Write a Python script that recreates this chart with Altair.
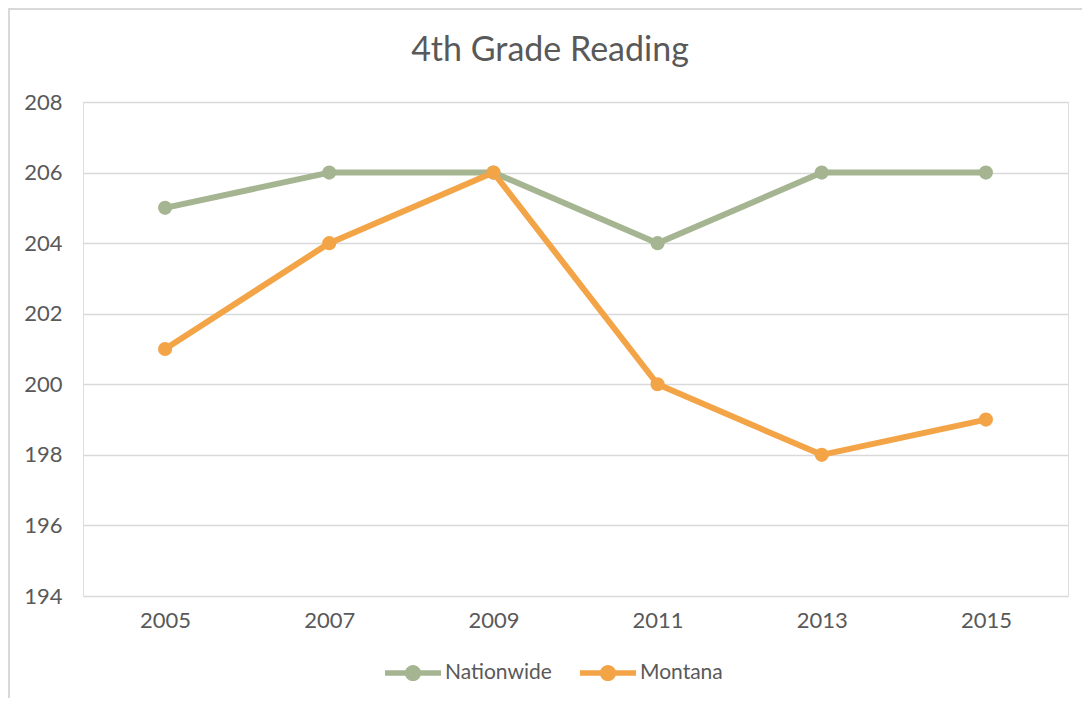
import altair as alt
import pandas as pd

years = ["2005", "2007", "2009", "2011", "2013", "2015"]
nationwide = [205, 206, 206, 204, 206, 206]
montana = [201, 204, 206, 200, 198, 199]
series_names = ["Nationwide", "Montana"]
series_colors = ["#A5B592", "#F3A447"]
y_ticks = [194, 196, 198, 200, 202, 204, 206, 208]
title_text = "4th Grade Reading"

rows = []
for name, vals in zip(series_names, [nationwide, montana]):
    for yr, v in zip(years, vals):
        rows.append({"year": yr, "value": v, "series": name, "order": series_names.index(name)})
df = pd.DataFrame(rows)

FONT = "Lato"
TXT = "#595959"
GRID = "#D9D9D9"

x_enc = alt.X("year:O", scale=alt.Scale(padding=0.5),
              axis=alt.Axis(title=None, labelAngle=0, domain=False, ticks=False,
                            labelPadding=14, labelFontSize=22, labelColor=TXT, labelFont=FONT))
y_enc = alt.Y("value:Q", scale=alt.Scale(domain=[194, 208], nice=False, zero=False),
              axis=alt.Axis(title=None, values=y_ticks, domain=False, ticks=False,
                            labelPadding=21, labelFontSize=22, labelColor=TXT, labelFont=FONT,
                            grid=True, gridColor=GRID, gridWidth=1.5))

color_scale = alt.Scale(domain=series_names, range=series_colors)

lines = alt.Chart(df).mark_line(strokeWidth=6, strokeJoin="round", strokeCap="round").encode(
    x=x_enc, y=y_enc,
    color=alt.Color("series:N", scale=color_scale, legend=None, sort=series_names),
    order=alt.Order("order:Q"),
)

sym = "M-1,-0.1H1V0.1H-1Z M-0.29,0A0.29,0.29 0 1,1 0.29,0A0.29,0.29 0 1,1 -0.29,0Z"

points = alt.Chart(df).mark_point(filled=True, size=200, opacity=1).encode(
    x=x_enc, y=y_enc,
    color=alt.Color("series:N", scale=color_scale, sort=series_names,
                    legend=alt.Legend(title=None, orient="none", legendX=302, legendY=543,
                                      direction="horizontal", symbolType=sym, symbolSize=3136,
                                      symbolStrokeWidth=0, labelFont=FONT, labelFontSize=21,
                                      labelColor=TXT, labelOffset=4, columnPadding=28)),
)

one = pd.DataFrame({"a": [0]})
border_top = alt.Chart(one).mark_rule(stroke=GRID, strokeWidth=2).encode(
    x=alt.value(-75), x2=alt.value(999), y=alt.value(-93))
border_left = alt.Chart(one).mark_rule(stroke=GRID, strokeWidth=2).encode(
    x=alt.value(-74), y=alt.value(-94), y2=alt.value(596))

title = alt.Chart(pd.DataFrame({"t": [title_text]})).mark_text(
    font=FONT, fontSize=34, color=TXT, align="center", baseline="alphabetic"
).encode(text="t:N", x=alt.value(467), y=alt.value(-41))

chart = alt.layer(border_top, border_left, lines, points, title).resolve_scale(
    color="independent"
).resolve_legend(color="independent").properties(
    width=985, height=494,
    padding={"left": 75, "top": 94, "right": 14, "bottom": 102},
    autosize=alt.AutoSizeParams(type="none"),
).configure_view(stroke=None).configure(background="white")

chart.save("out.html", embed_options={"renderer": "svg", "actions": False})
